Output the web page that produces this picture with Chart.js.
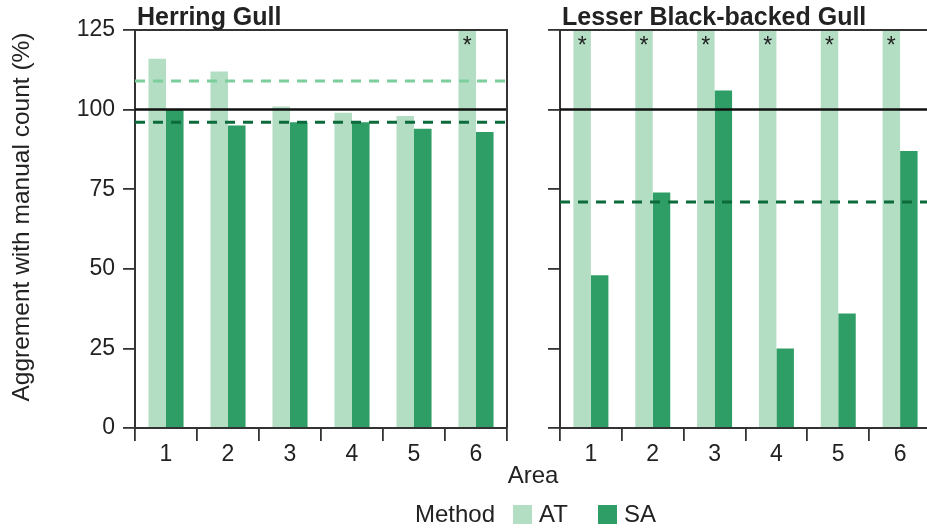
<!DOCTYPE html>
<html>
<head>
<meta charset="utf-8">
<script src="https://cdn.jsdelivr.net/npm/chart.js@4.4.1/dist/chart.umd.min.js"></script>
<style>
  html, body { margin: 0; padding: 0; background: #fff; overflow: hidden; width: 927px; height: 528px; }
  #wrap { position: relative; width: 927px; height: 528px; }
  canvas { position: absolute; top: 0; }
  #cHerring { left: 0; }
  #cLesser { left: 530px; }
</style>
</head>
<body>
<div id="wrap">
  <canvas id="cHerring" width="927" height="528"></canvas>
  <canvas id="cLesser" width="402" height="528"></canvas>
</div>
<script>
// ---- data ----
const areas = ['1', '2', '3', '4', '5', '6'];
const methods = ['AT', 'SA'];
const yTicks = [0, 25, 50, 75, 100, 125];
const yMax = 125;

// Herring Gull (values above the axis limit are capped at 125 and marked with *)
const herringAT = [116, 112, 101, 99, 98, 125];
const herringSA = [100, 95, 96, 96, 94, 93];
const herringMeanAT = 109;
const herringMeanSA = 96;

// Lesser Black-backed Gull
const lesserAT = [125, 125, 125, 125, 125, 125];
const lesserSA = [48, 74, 106, 25, 36, 87];
const lesserMeanSA = 71;

const manualReference = 100;

// ---- styling ----
const FONT = '"Liberation Sans", Arial, Helvetica, sans-serif';
const colorAT = '#b4dec4';
const colorSA = '#2e9e66';
const colorMeanAT = '#7ccf9c';
const colorMeanSA = '#0c6b3b';
const axisColor = '#333333';
const textColor = '#222222';

Chart.defaults.font.family = FONT;

// Reference/mean lines, frame, off-scale markers, panel title
const panelDecor = {
  id: 'panelDecor',
  afterDatasetsDraw(chart, args, opts) {
    const { ctx, chartArea: a, scales: { y } } = chart;
    ctx.save();
    opts.lines.forEach(l => {
      const py = y.getPixelForValue(l.value);
      ctx.beginPath();
      ctx.setLineDash(l.dash || []);
      ctx.strokeStyle = l.color;
      ctx.lineWidth = l.width;
      ctx.moveTo(a.left, py);
      ctx.lineTo(a.right, py);
      ctx.stroke();
    });
    ctx.setLineDash([]);

    // top and right border of the panel
    ctx.strokeStyle = axisColor;
    ctx.lineWidth = 2;
    ctx.beginPath();
    ctx.moveTo(a.left, a.top);
    ctx.lineTo(a.right, a.top);
    ctx.lineTo(a.right, a.bottom);
    ctx.stroke();

    // asterisk above bars that run past the axis limit
    const meta = chart.getDatasetMeta(0);
    ctx.fillStyle = textColor;
    ctx.font = '23px ' + FONT;
    ctx.textAlign = 'center';
    ctx.textBaseline = 'middle';
    chart.data.datasets[0].data.forEach((v, i) => {
      if (v >= y.max) ctx.fillText('*', meta.data[i].x, a.top + 17);
    });

    // panel title
    ctx.font = 'bold 25px ' + FONT;
    ctx.textAlign = 'left';
    ctx.textBaseline = 'alphabetic';
    ctx.fillText(opts.title, a.left + 2, a.top - 5);
    ctx.restore();
  }
};

// Shared y title, x title and legend
const figureText = {
  id: 'figureText',
  afterDraw(chart, args, opts) {
    if (!opts.enabled) return;
    const { ctx } = chart;
    ctx.save();
    ctx.fillStyle = textColor;
    ctx.font = '24.5px ' + FONT;

    // y axis title
    ctx.save();
    ctx.translate(22, 217);
    ctx.rotate(-Math.PI / 2);
    ctx.textAlign = 'center';
    ctx.textBaseline = 'middle';
    ctx.fillText('Aggrement with manual count (%)', 0, 0);
    ctx.restore();

    // x axis title
    ctx.font = '24px ' + FONT;
    ctx.textAlign = 'center';
    ctx.textBaseline = 'alphabetic';
    ctx.fillText('Area', 533, 483);

    // legend
    ctx.textAlign = 'left';
    ctx.fillText('Method', 415, 522);
    const ds = chart.data.datasets;
    const keys = [{ x: 513, tx: 539 }, { x: 598, tx: 624 }];
    ds.forEach((d, i) => {
      ctx.fillStyle = d.backgroundColor;
      ctx.fillRect(keys[i].x, 505, 19, 19);
      ctx.fillStyle = textColor;
      ctx.fillText(d.label, keys[i].tx, 522);
    });
    ctx.restore();
  }
};

function panelOptions({ title, lines, yWidth, showYLabels, padRight, withFigureText }) {
  return {
    responsive: false,
    animation: false,
    devicePixelRatio: 1,
    layout: { padding: { top: 30, right: padRight, bottom: 0, left: 0 } },
    plugins: {
      legend: { display: false },
      tooltip: { enabled: false },
      title: { display: false },
      panelDecor: { title, lines },
      figureText: { enabled: withFigureText }
    },
    scales: {
      x: {
        type: 'category',
        offset: true,
        grid: { offset: true, drawOnChartArea: false, drawTicks: true, tickLength: 13, color: axisColor, lineWidth: 1.8 },
        border: { display: true, color: axisColor, width: 2 },
        ticks: { font: { size: 23 }, color: textColor, padding: 0, maxRotation: 0 },
        afterFit: s => { s.height = 100; }
      },
      y: {
        min: 0,
        max: yMax,
        afterBuildTicks: s => { s.ticks = yTicks.map(v => ({ value: v })); },
        grid: { drawOnChartArea: false, drawTicks: true, tickLength: 12, color: axisColor, lineWidth: 1.8 },
        border: { display: true, color: axisColor, width: 2 },
        ticks: { display: showYLabels, font: { size: 23 }, color: textColor, padding: 8 },
        afterFit: s => { s.width = yWidth; }
      }
    }
  };
}

function barDatasets(at, sa) {
  return [
    { label: methods[0], data: at, backgroundColor: colorAT, borderWidth: 0, categoryPercentage: 0.566, barPercentage: 1 },
    { label: methods[1], data: sa, backgroundColor: colorSA, borderWidth: 0, categoryPercentage: 0.566, barPercentage: 1 }
  ];
}

new Chart(document.getElementById('cHerring'), {
  type: 'bar',
  data: { labels: areas, datasets: barDatasets(herringAT, herringSA) },
  options: panelOptions({
    title: 'Herring Gull',
    lines: [
      { value: herringMeanAT, color: colorMeanAT, dash: [10, 8], width: 3 },
      { value: manualReference, color: '#111111', width: 2.5 },
      { value: herringMeanSA, color: colorMeanSA, dash: [10, 8], width: 3 }
    ],
    yWidth: 135,
    showYLabels: true,
    padRight: 420,
    withFigureText: true
  }),
  plugins: [panelDecor, figureText]
});

new Chart(document.getElementById('cLesser'), {
  type: 'bar',
  data: { labels: areas, datasets: barDatasets(lesserAT, lesserSA) },
  options: panelOptions({
    title: 'Lesser Black-backed Gull',
    lines: [
      { value: manualReference, color: '#111111', width: 2.5 },
      { value: lesserMeanSA, color: colorMeanSA, dash: [10, 8], width: 3 }
    ],
    yWidth: 30,
    showYLabels: false,
    padRight: 1,
    withFigureText: false
  }),
  plugins: [panelDecor, figureText]
});
</script>
</body>
</html>
